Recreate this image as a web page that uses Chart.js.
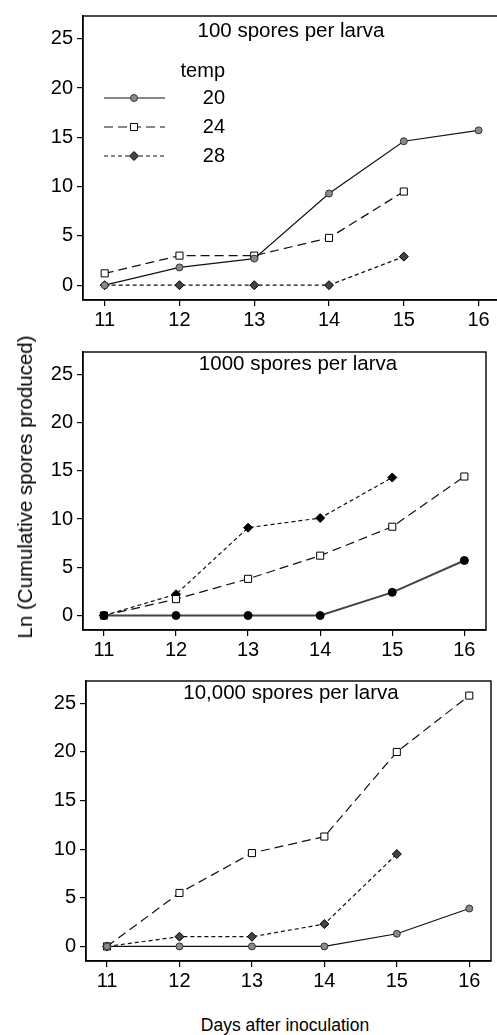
<!DOCTYPE html>
<html><head><meta charset="utf-8">
<script src="https://cdn.jsdelivr.net/npm/chart.js@4"></script>
<style>
html,body{margin:0;padding:0;background:#fff;overflow:hidden;width:497px;height:1035px;position:relative;}
canvas{position:absolute;left:0;}
#ylab{position:absolute;left:25px;top:487px;transform:translate(-50%,-50%) rotate(-90deg);font:20.5px "Liberation Sans";white-space:nowrap;color:#000;}
#xlab{position:absolute;left:285px;top:1025px;transform:translate(-50%,-50%);font:17.5px "Liberation Sans";white-space:nowrap;color:#000;}
</style></head>
<body>
<canvas id="c1" width="530" height="330" style="top:0px;width:530px;height:330px"></canvas>
<canvas id="c2" width="497" height="325" style="top:335px;width:497px;height:325px"></canvas>
<canvas id="c3" width="497" height="326" style="top:665px;width:497px;height:326px"></canvas>
<div id="ylab">Ln (Cumulative spores produced)</div>
<div id="xlab">Days after inoculation</div>
<script>
// ---- data ----
const days = [11, 12, 13, 14, 15, 16];
const xTickValues = [11, 12, 13, 14, 15, 16];
const yTickValues = [0, 5, 10, 15, 20, 25];
const tempLabels = ['20', '24', '28'];
const legendTitle = 'temp';
const panelTitles = ['100 spores per larva', '1000 spores per larva', '10,000 spores per larva'];

const p100_t20 = [0, 1.8, 2.7, 9.3, 14.6, 15.7];
const p100_t24 = [1.2, 3.0, 3.0, 4.8, 9.5, null];
const p100_t28 = [0, 0, 0, 0, 2.9, null];

const p1000_t20 = [0, 0, 0, 0, 2.4, 5.7];
const p1000_t24 = [0, 1.7, 3.8, 6.2, 9.2, 14.4];
const p1000_t28 = [0, 2.2, 9.1, 10.1, 14.3, null];

const p10000_t20 = [0, 0, 0, 0, 1.3, 3.9];
const p10000_t24 = [0, 5.5, 9.6, 11.3, 20.0, 25.8];
const p10000_t28 = [0, 1.0, 1.0, 2.3, 9.5, null];

// ---- drawing ----
const FONT = '"Liberation Sans", Arial, sans-serif';
Chart.defaults.font.family = FONT;
Chart.defaults.color = '#000';

function styles(filled) {
  return [
    filled
      ? {pointStyle: 'circle', pointRadius: 4, pointBackgroundColor: '#000', pointBorderColor: '#000', borderColor: '#444', borderWidth: 2, borderDash: []}
      : {pointStyle: 'circle', pointRadius: 3.5, pointBackgroundColor: '#8a8a8a', pointBorderColor: '#333', borderColor: '#111', borderWidth: 1.2, borderDash: []},
    {pointStyle: 'rect', pointRadius: 5, pointBackgroundColor: '#fff', pointBorderColor: '#000', borderColor: '#111', borderWidth: 1.2, borderDash: [9, 5]},
    {pointStyle: 'rectRot', pointRadius: 4.5, pointBackgroundColor: filled ? '#000' : '#444', pointBorderColor: '#000', borderColor: '#111', borderWidth: 1.2, borderDash: [4, 3]}
  ];
}

const framePlugin = {
  id: 'frame',
  afterDraw(chart, args, o) {
    const ctx = chart.ctx, a = chart.chartArea;
    ctx.save();
    ctx.strokeStyle = '#000';
    ctx.lineWidth = 1.4;
    ctx.strokeRect(a.left, a.top, a.right - a.left, a.bottom - a.top);
    ctx.fillStyle = '#000';
    ctx.font = '20.5px ' + FONT;
    ctx.textAlign = 'center';
    ctx.textBaseline = 'alphabetic';
    ctx.fillText(o.title, o.titleX, a.top + o.titleDy);
    if (o.legend) {
      const ds = chart.data.datasets;
      ctx.font = '20px ' + FONT;
      ctx.textAlign = 'right';
      ctx.fillText(legendTitle, 225, 77);
      const ys = [98, 127, 156];
      ds.forEach((d, i) => {
        const y = ys[i];
        ctx.save();
        ctx.strokeStyle = d.borderColor;
        ctx.lineWidth = d.borderWidth;
        ctx.setLineDash(d.borderDash);
        ctx.beginPath(); ctx.moveTo(104, y); ctx.lineTo(165, y); ctx.stroke();
        ctx.setLineDash([]);
        ctx.fillStyle = d.pointBackgroundColor;
        ctx.strokeStyle = d.pointBorderColor;
        ctx.lineWidth = 1;
        Chart.helpers.drawPoint(ctx, {pointStyle: d.pointStyle, radius: d.pointRadius, rotation: 0, borderWidth: 1}, 134, y);
        ctx.restore();
        ctx.fillStyle = '#000';
        ctx.fillText(d.label, 225, y + 6);
      });
    }
    ctx.restore();
  }
};

function makeChart(id, series, cfg) {
  const st = styles(cfg.filled);
  const datasets = series.map((vals, i) => Object.assign({
    label: tempLabels[i],
    data: vals.map((v, k) => ({x: days[k], y: v})),
    fill: false,
    tension: 0,
    pointBorderWidth: 1,
    spanGaps: false
  }, st[i]));
  const axisCommon = {
    grid: {drawOnChartArea: false, drawTicks: true, tickLength: 6, color: '#000', lineWidth: 1.2},
    border: {display: true, color: '#000', width: 1.4},
    ticks: {color: '#000', font: {size: 20}, maxRotation: 0, autoSkip: false}
  };
  return new Chart(document.getElementById(id), {
    type: 'line',
    data: {datasets},
    plugins: [framePlugin],
    options: {
      responsive: false, animation: false, devicePixelRatio: 1,
      layout: {padding: {top: cfg.padTop, right: cfg.padRight, left: 0, bottom: 0}},
      plugins: {
        legend: {display: false}, tooltip: {enabled: false},
        frame: {title: cfg.title, titleX: cfg.titleX, titleDy: cfg.titleDy, legend: cfg.legend}
      },
      scales: {
        x: Object.assign({}, axisCommon, {
          type: 'linear', min: 10.71, max: cfg.xMax,
          ticks: Object.assign({}, axisCommon.ticks, {padding: 2}),
          afterBuildTicks: s => { s.ticks = xTickValues.map(v => ({value: v})); },
          afterFit: s => { s.height = cfg.xH; }
        }),
        y: Object.assign({}, axisCommon, {
          type: 'linear', min: -1.5, max: 27.3,
          ticks: Object.assign({}, axisCommon.ticks, {padding: 4}),
          afterBuildTicks: s => { s.ticks = yTickValues.map(v => ({value: v})); },
          afterFit: s => { s.width = cfg.yW; }
        })
      }
    }
  });
}

makeChart('c1', [p100_t20, p100_t24, p100_t28],
  {padTop: 12, padRight: 20, xH: 30, yW: 83, xMax: 16.42, title: panelTitles[0], titleX: 291, titleDy: 21, legend: true, filled: false});
makeChart('c2', [p1000_t20, p1000_t24, p1000_t28],
  {padTop: 17, padRight: 11, xH: 30, yW: 83, xMax: 16.3, title: panelTitles[1], titleX: 298, titleDy: 18, legend: false, filled: true});
makeChart('c3', [p10000_t20, p10000_t24, p10000_t28],
  {padTop: 15, padRight: 6, xH: 30, yW: 86, xMax: 16.3, title: panelTitles[2], titleX: 291, titleDy: 18, legend: false, filled: false});
</script>
</body></html>
